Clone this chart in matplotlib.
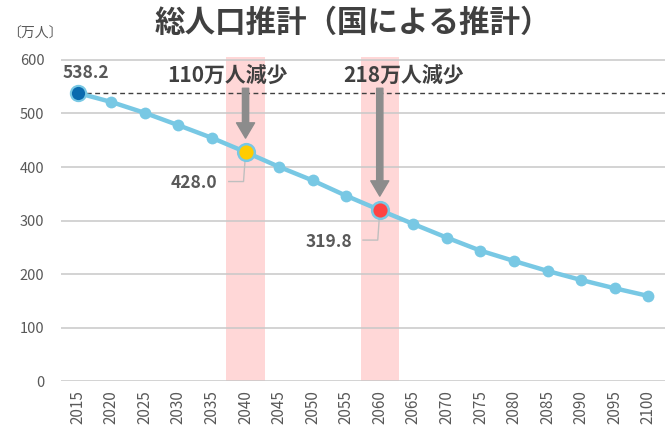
import matplotlib
matplotlib.use("Agg")
import matplotlib.pyplot as plt
import numpy as np

plt.rcParams['font.family'] = ['Noto Sans CJK JP', 'DejaVu Sans']

years = [2015, 2020, 2025, 2030, 2035, 2040, 2045, 2050, 2055, 2060,
         2065, 2070, 2075, 2080, 2085, 2090, 2095, 2100]
population = [538.2, 521.4, 501.0, 478.0, 454.4, 428.0, 400.4, 375.0, 346.4, 319.8,
              293.8, 268.3, 244.1, 224.8, 206.2, 189.4, 173.9, 159.6]
yticks = [0, 100, 200, 300, 400, 500, 600]
title = "総人口推計（国による推計）"
unit_label = "〔万人〕"
highlight_years = [2040, 2060]
highlight_colors = ["#FFCC00", "#FF4343"]
decrease_labels = ["110万人減少", "218万人減少"]

line_color = "#78C8E4"
text_dark = "#404040"
text_gray = "#595959"

fig = plt.figure(figsize=(6.65, 4.32), dpi=100)
ax = fig.add_axes([0.0917, 0.1169, 0.9083, 0.752])

x = np.arange(len(years))
ax.set_xlim(-0.5, len(years) - 0.5)
ax.set_ylim(0, 606)

# pink highlight bands
for hy in highlight_years:
    i = years.index(hy)
    ax.axvspan(i - 0.57, i + 0.57, color="#FFD7D7", zorder=0, lw=0)

# gridlines
for t in yticks:
    ax.axhline(t, color="#C8C8C8", lw=1.1, zorder=1)

# dashed reference line at start value
ax.plot([0, len(years) - 0.5], [population[0], population[0]], ls=(0, (3.5, 2.5)),
        color="#404040", lw=1.0, zorder=2)

# main line
ax.plot(x, population, color=line_color, lw=3.2, marker="o", ms=8.5,
        markeredgewidth=0, zorder=3, solid_capstyle="round")

# first point
ax.plot([0], [population[0]], marker="o", ms=11, color="#0A6AAE",
        markeredgecolor=line_color, markeredgewidth=1.5, zorder=5)
ax.annotate(f"{population[0]:.1f}", (0, population[0]), xytext=(5.5, 8),
            textcoords="offset points", ha="center", va="bottom",
            fontsize=12.5, fontweight="bold", color=text_gray)

# highlighted points with arrows and labels
text_dx = [-0.55, 0.7]
label_offsets = [(-0.83, -58), (-0.83, -59)]
for hy, hc, dl, tdx, (dxo, dyo) in zip(highlight_years, highlight_colors, decrease_labels,
                                      text_dx, label_offsets):
    i = years.index(hy)
    v = population[i]
    ax.plot([i], [v], marker="o", ms=12, color=hc, markeredgecolor=line_color,
            markeredgewidth=1.8, zorder=6)
    # arrow
    ax.annotate("", xy=(i, v + 26), xytext=(i, 547),
                arrowprops=dict(width=4.5, headwidth=13, headlength=11,
                                color="#8C8C8C", shrink=0), zorder=4)
    ax.text(i + tdx, 571, dl, ha="center", va="center", fontsize=15,
            fontweight="bold", color=text_dark, zorder=7)
    # leader line and value label
    lx = [i, i - 0.06, i - 0.5]
    ly = [v - 2, v + dyo + 3, v + dyo + 3]
    ax.plot(lx, ly, color="#BFBFBF", lw=1, zorder=5)
    ax.text(i + dxo, v + dyo, f"{v:.1f}", ha="right", va="center",
            fontsize=12.5, fontweight="bold", color=text_gray, zorder=7)

ax.set_xticks(x)
ax.set_xticklabels([str(y) for y in years], rotation=90, fontsize=11, color=text_gray)
ax.set_yticks(yticks)
ax.set_yticklabels([str(t) for t in yticks], fontsize=10.5, color=text_gray)
ax.tick_params(axis="both", length=0)
ax.tick_params(axis="y", pad=12)
ax.tick_params(axis="x", pad=6)
for s in ax.spines.values():
    s.set_visible(False)

fig.text(0.53, 0.946, title, ha="center", va="center", fontsize=22,
         fontweight="bold", color=text_dark)
fig.text(0.01, 0.923, unit_label, ha="left", va="center", fontsize=10, color=text_gray)

fig.savefig("out.png", dpi=100)
